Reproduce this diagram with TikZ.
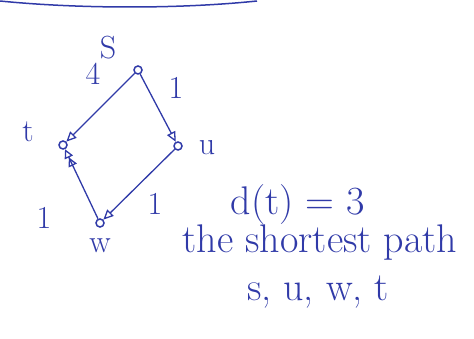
\documentclass[tikz,border=0pt]{standalone}
\usepackage{tikz}
\usetikzlibrary{arrows.meta, positioning}
\definecolor{inkBlue}{RGB}{48, 58, 168}

\begin{document}
\begin{tikzpicture}[
  x=1pt, y=-1pt,
  vertex/.style={
    circle, draw=inkBlue, line width=1.5pt,
    inner sep=0pt, minimum size=8pt
  },
  lbl/.style={text=inkBlue, font=\fontsize{32}{34}\selectfont},
  note/.style={text=inkBlue, font=\fontsize{40}{44}\selectfont},
  edge/.style={draw=inkBlue, line width=1.3pt},
  tip/.style={-{Triangle[open, length=10pt, width=9pt]}},
  twotips/.style={-{Triangle[open, length=9pt, width=9pt] Triangle[open, length=9pt, width=9pt]}}
]
\useasboundingbox (0,0) rectangle (474,339);

% rule at the top of the page
\draw[inkBlue, line width=1.5pt] (0,1) .. controls (80,9) and (180,9) .. (257,1);

\node[vertex] (s) at (138,70) {};
\node[vertex] (t) at (63,145) {};
\node[vertex] (u) at (178,146) {};
\node[vertex] (w) at (100,223) {};

\node[lbl] (slabel) at (108,48) {S};
\node[lbl] (tlabel) at (28,132) {t};
\node[lbl] (ulabel) at (207,148) {u};
\node[lbl] (wlabel) at (100,246) {w};

\draw[edge, tip] (s) -- (t);
\draw[edge, tip] (s) -- (u);
\draw[edge, tip] (u) -- (w);
\draw[edge, twotips] (w) -- (t);

\node[lbl] (wst) at (93,74) {4};
\node[lbl] (wsu) at (176,88) {1};
\node[lbl] (wwt) at (44,218) {1};
\node[lbl] (wuw) at (155,204) {1};

\node[note] (dist) at (298,205) {d(t) = 3};
\node[note] (phrase) at (320,243) {the shortest path};
\node[note] (route) at (318,292) {s, u, w, t};

\end{tikzpicture}
\end{document}
